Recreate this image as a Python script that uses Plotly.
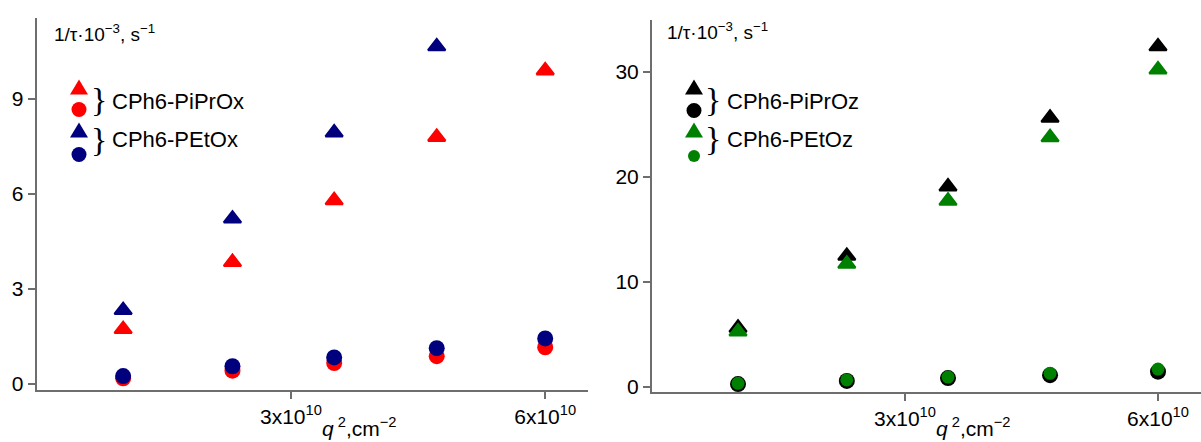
import plotly.graph_objects as go

# ---- data (q^2 in cm^-2, 1/tau in 10^3 s^-1) ----
q2 = [1.02e10, 2.31e10, 3.51e10, 4.72e10, 6.00e10]

# left panel
pipropx_fast = [1.73, 3.85, 5.80, 7.80, 9.90]   # red triangles
petox_fast = [2.33, 5.22, 7.94, 10.66]           # navy triangles
pipropx_slow = [0.18, 0.42, 0.66, 0.88, 1.16]   # red circles
petox_slow = [0.25, 0.56, 0.84, 1.13, 1.44]     # navy circles

# right panel
pipropz_fast = [5.6, 12.45, 19.05, 25.6, 32.4]   # black triangles
petoz_fast = [5.25, 11.7, 17.7, 23.75, 30.2]     # green triangles
pipropz_slow = [0.25, 0.55, 0.82, 1.10, 1.43]    # black circles
petoz_slow = [0.32, 0.65, 0.92, 1.27, 1.68]      # green circles

left_labels = ["CPh6-PiPrOx", "CPh6-PEtOx"]
right_labels = ["CPh6-PiPrOz", "CPh6-PEtOz"]
x_tickvals = [3e10, 6e10]
x_ticktext = ["3x10<sup>10</sup>", "6x10<sup>10</sup>"]
left_yticks = [0, 3, 6, 9]
right_yticks = [0, 10, 20, 30]

RED = "#ff0000"
NAVY = "#00007f"
BLACK = "#000000"
GREEN = "#008000"
AX = "#6e6e6e"
FONT = "Liberation Sans"
W, H = 1201, 442

fig = go.Figure()

def tri(x, y, color, xa, ya):
    fig.add_trace(go.Scatter(x=x, y=y, mode="markers", xaxis=xa, yaxis=ya,
                             marker=dict(symbol="triangle-up", size=15, color=color,
                                         line=dict(color=color, width=2.2)),
                             showlegend=False, cliponaxis=False))

def circ(x, y, color, xa, ya, size=16):
    fig.add_trace(go.Scatter(x=x, y=y, mode="markers", xaxis=xa, yaxis=ya,
                             marker=dict(symbol="circle", size=size, color=color,
                                         line=dict(width=0)),
                             showlegend=False, cliponaxis=False))

tri(q2, pipropx_fast, RED, "x", "y")
tri(q2[:len(petox_fast)], petox_fast, NAVY, "x", "y")
circ(q2, pipropx_slow, RED, "x", "y")
circ(q2, petox_slow, NAVY, "x", "y")

tri(q2, pipropz_fast, BLACK, "x2", "y2")
tri(q2, petoz_fast, GREEN, "x2", "y2")
circ(q2, pipropz_slow, BLACK, "x2", "y2", 16)
circ(q2, petoz_slow, GREEN, "x2", "y2", 13)

axis_common = dict(showline=True, linecolor=AX, linewidth=2, ticks="outside",
                   ticklen=7, tickwidth=2, tickcolor=AX, showgrid=False,
                   zeroline=False, automargin=False,
                   tickfont=dict(family=FONT, size=21, color="#000"))

def px(xp):
    return xp / W

def py(yp):
    return 1 - yp / H

fig.update_layout(
    width=W, height=H, autosize=False,
    margin=dict(l=0, r=0, t=0, b=0, autoexpand=False),
    paper_bgcolor="white", plot_bgcolor="white",
    xaxis=dict(domain=[px(36.7), px(588)], range=[0, 6.505e10], anchor="y",
               tickvals=x_tickvals, ticktext=x_ticktext, **axis_common),
    yaxis=dict(domain=[py(389.5), py(18.3)], range=[-0.174, 11.55], anchor="x",
               tickvals=left_yticks, **axis_common),
    xaxis2=dict(domain=[px(652), 1.0], range=[0, 6.51e10], anchor="y2",
                tickvals=x_tickvals, ticktext=x_ticktext, **axis_common),
    yaxis2=dict(domain=[py(391.7), py(20)], range=[-0.476, 34.92], anchor="x2",
                tickvals=right_yticks, **axis_common),
)

annotations = []
shapes = []

def text(xp, yp, s, size, xanchor="left", family=FONT):
    annotations.append(dict(x=px(xp), y=py(yp), xref="paper", yref="paper",
                            text=s, showarrow=False, xanchor=xanchor, yanchor="middle",
                            font=dict(family=family, size=size, color="#000")))

def leg_tri(xp, yp, color):
    shapes.append(dict(type="path", xref="paper", yref="paper",
                       xsizemode="pixel", ysizemode="pixel",
                       xanchor=px(xp), yanchor=py(yp),
                       path="M -9,-6.5 L 9,-6.5 L 0,8.5 Z",
                       fillcolor=color, line=dict(width=0)))

def leg_circ(xp, yp, color, d=15):
    shapes.append(dict(type="circle", xref="paper", yref="paper",
                       xsizemode="pixel", ysizemode="pixel",
                       xanchor=px(xp), yanchor=py(yp),
                       x0=-d / 2, x1=d / 2, y0=-d / 2, y1=d / 2,
                       fillcolor=color, line=dict(width=0)))

# left legend
leg_tri(79, 88, RED)
leg_circ(79, 109.5, RED)
leg_tri(79, 131, NAVY)
leg_circ(79, 154.5, NAVY)
text(89, 100, "}", 34, family="Liberation Serif")
text(89, 139, "}", 34, family="Liberation Serif")
text(110, 101.7, left_labels[0], 22)
text(110, 139, left_labels[1], 22)

# right legend
leg_tri(694, 88, BLACK)
leg_circ(694, 110.5, BLACK)
leg_tri(694, 131, GREEN)
leg_circ(694, 156, GREEN, 12)
text(703, 100, "}", 34, family="Liberation Serif")
text(703, 138, "}", 34, family="Liberation Serif")
text(725, 101.7, right_labels[0], 22)
text(725, 139, right_labels[1], 22)

# axis titles
ytitle = "1/τ·10<sup>−3</sup>, s<sup>−1</sup>"
text(52, 33, ytitle, 19)
text(665, 31, ytitle, 19)
xtitle = "<i>q</i><sup> 2</sup>,cm<sup>−2</sup>"
text(359.5, 427, xtitle, 21, xanchor="center")
text(973, 427, xtitle, 21, xanchor="center")

fig.update_layout(annotations=annotations, shapes=shapes)

fig.write_html("out.html")
